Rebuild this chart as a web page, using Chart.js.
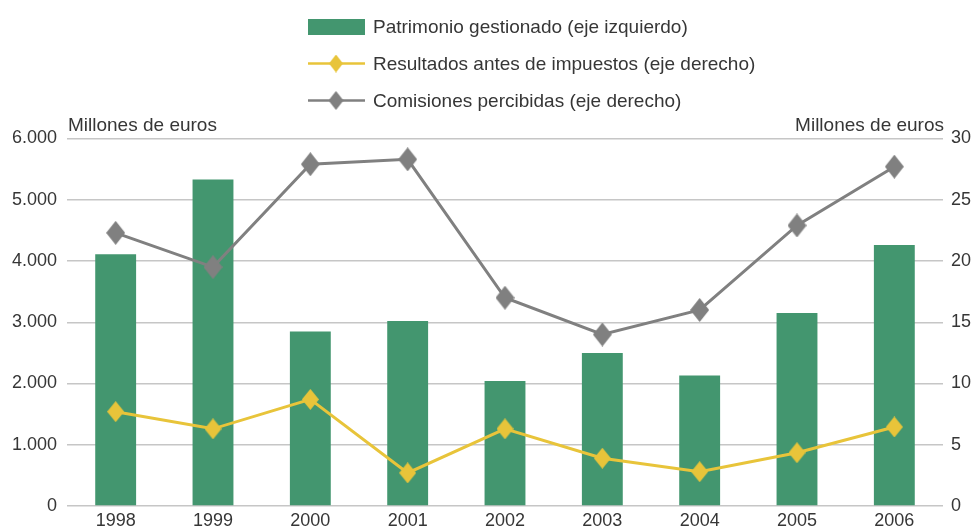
<!DOCTYPE html>
<html>
<head>
<meta charset="utf-8">
<script src="https://cdn.jsdelivr.net/npm/chart.js@4/dist/chart.umd.min.js"></script>
<style>
  html, body { margin: 0; padding: 0; background: #ffffff; }
  #wrap { position: relative; width: 975px; height: 528px; }
  #chart { position: absolute; left: 0; top: 0; }
  #legend {
    position: absolute; left: 308px; top: 8px;
    font-family: "Liberation Sans", Arial, sans-serif; font-size: 19px; color: #363636;
  }
  .item { display: flex; align-items: center; height: 37px; }
  .sw { width: 57px; height: 37px; margin-right: 8px; }
</style>
</head>
<body>
<div id="wrap">
  <canvas id="chart" width="975" height="528"></canvas>
  <div id="legend"></div>
</div>
<script>
// Years on the category axis
const years = ['1998', '1999', '2000', '2001', '2002', '2003', '2004', '2005', '2006'];
// Managed assets, millions of euros (left axis)
const patrimonio = [4110, 5330, 2850, 3020, 2040, 2500, 2130, 3150, 4260];
// Pre-tax results, millions of euros (right axis)
const resultados = [7.7, 6.3, 8.7, 2.7, 6.3, 3.9, 2.8, 4.35, 6.45];
// Fees received, millions of euros (right axis)
const comisiones = [22.3, 19.5, 27.9, 28.3, 17.0, 14.0, 16.0, 22.9, 27.7];

const leftTicks = [0, 1000, 2000, 3000, 4000, 5000, 6000];
const rightTicks = [0, 5, 10, 15, 20, 25, 30];

const seriesNames = [
  'Patrimonio gestionado (eje izquierdo)',
  'Resultados antes de impuestos (eje derecho)',
  'Comisiones percibidas (eje derecho)'
];
const axisTitle = 'Millones de euros';

const GREEN = '#43966f';
const YELLOW = '#e8c43a';
const GREY = '#808080';
const TEXT = '#363636';
const FONT = '"Liberation Sans", Arial, sans-serif';

// Tall diamond marker drawn on a small offscreen canvas
function diamond(w, h, color) {
  const c = document.createElement('canvas');
  c.width = w; c.height = h;
  const g = c.getContext('2d');
  g.fillStyle = color;
  g.beginPath();
  g.moveTo(w / 2, 0);
  g.lineTo(w, h / 2);
  g.lineTo(w / 2, h);
  g.lineTo(0, h / 2);
  g.closePath();
  g.fill();
  return c;
}

// Spanish thousands separator
const fmtThousands = v => String(v).replace(/\B(?=(\d{3})+(?!\d))/g, '.');

// Axis captions above each value axis
const axisCaptions = {
  id: 'axisCaptions',
  afterDraw(chart) {
    const { ctx, chartArea } = chart;
    ctx.save();
    ctx.font = '19px ' + FONT;
    ctx.fillStyle = TEXT;
    ctx.textBaseline = 'alphabetic';
    ctx.textAlign = 'left';
    ctx.fillText(axisTitle, chartArea.left + 1, chartArea.top - 8);
    ctx.textAlign = 'right';
    ctx.fillText(axisTitle, chartArea.right + 1, chartArea.top - 8);
    ctx.restore();
  }
};

const chart = new Chart(document.getElementById('chart'), {
  data: {
    labels: years,
    datasets: [
      {
        type: 'line', label: seriesNames[1], data: resultados, yAxisID: 'y1', order: 0,
        borderColor: YELLOW, borderWidth: 3, tension: 0,
        pointStyle: diamond(17, 21, YELLOW), pointRadius: 10
      },
      {
        type: 'line', label: seriesNames[2], data: comisiones, yAxisID: 'y1', order: 0,
        borderColor: GREY, borderWidth: 3, tension: 0,
        pointStyle: diamond(19, 24, GREY), pointRadius: 11
      },
      {
        type: 'bar', label: seriesNames[0], data: patrimonio, yAxisID: 'y', order: 1,
        backgroundColor: GREEN, barPercentage: 0.42, categoryPercentage: 1
      }
    ]
  },
  options: {
    responsive: false,
    animation: false,
    layout: { padding: { top: 138.5, left: 0, right: 0, bottom: 0 } },
    plugins: { legend: { display: false }, tooltip: { enabled: false } },
    scales: {
      x: {
        grid: { display: false, drawTicks: false },
        border: { display: false },
        ticks: { color: TEXT, font: { family: FONT, size: 18 }, padding: 4 },
        afterFit(s) { s.height = 22; }
      },
      y: {
        position: 'left', min: 0, max: 6000,
        afterBuildTicks(s) { s.ticks = leftTicks.map(v => ({ value: v })); },
        grid: { color: '#c6c6c6', lineWidth: 1.5, drawTicks: false },
        border: { display: false },
        ticks: { color: TEXT, font: { family: FONT, size: 18 }, padding: 10, callback: v => fmtThousands(v) },
        afterFit(s) { s.width = 67; }
      },
      y1: {
        position: 'right', min: 0, max: 30,
        afterBuildTicks(s) { s.ticks = rightTicks.map(v => ({ value: v })); },
        grid: { display: false, drawTicks: false },
        border: { display: false },
        ticks: { color: TEXT, font: { family: FONT, size: 18 }, padding: 8 },
        afterFit(s) { s.width = 32; }
      }
    }
  },
  plugins: [axisCaptions]
});

// Legend listing the three series, one per row
const legend = document.getElementById('legend');
const swatches = [
  { kind: 'bar', color: GREEN },
  { kind: 'line', color: YELLOW, dw: 14, dh: 18 },
  { kind: 'line', color: GREY, dw: 15, dh: 19 }
];
swatches.forEach((s, i) => {
  const row = document.createElement('div');
  row.className = 'item';
  const c = document.createElement('canvas');
  c.className = 'sw'; c.width = 57; c.height = 37;
  const g = c.getContext('2d');
  if (s.kind === 'bar') {
    g.fillStyle = s.color;
    g.fillRect(0, 11, 57, 16);
  } else {
    g.strokeStyle = s.color; g.lineWidth = 2.5;
    g.beginPath(); g.moveTo(0, 18.5); g.lineTo(57, 18.5); g.stroke();
    g.drawImage(diamond(s.dw, s.dh, s.color), 28 - s.dw / 2, 18.5 - s.dh / 2);
  }
  const t = document.createElement('span');
  t.textContent = seriesNames[i];
  row.appendChild(c); row.appendChild(t);
  legend.appendChild(row);
});
</script>
</body>
</html>
